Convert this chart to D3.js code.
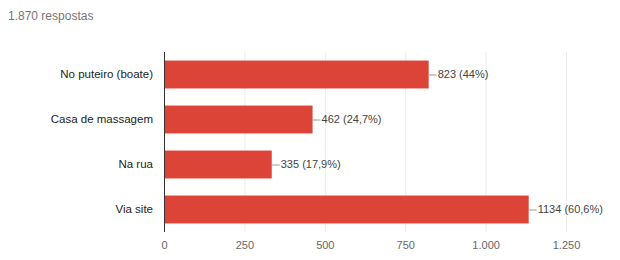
<!DOCTYPE html>
<html>
<head>
<meta charset="utf-8">
<script src="https://cdn.jsdelivr.net/npm/d3@7"></script>
<style>
  body { margin: 0; background: #fff; font-family: "Liberation Sans", Arial, sans-serif; }
  #chart { width: 620px; height: 260px; }
</style>
</head>
<body>
<div id="chart"></div>
<script>
//Datos
const categorias = ['No puteiro (boate)', 'Casa de massagem', 'Na rua', 'Via site'];
const valores = [823, 462, 335, 1134];
const etiquetas = ['823 (44%)', '462 (24,7%)', '335 (17,9%)', '1134 (60,6%)'];
const ticks = [0, 250, 500, 750, 1000, 1250];
const totalRespuestas = '1.870 respostas';

const COLOR_BAR = '#db4437';

let margin = {top: 52, right: 54, bottom: 28, left: 164},
    width = 620 - margin.left - margin.right,
    height = 260 - margin.top - margin.bottom;

let root = d3.select('#chart')
    .append('svg')
    .attr('width', 620)
    .attr('height', 260);

root.append('text')
    .attr('x', 8)
    .attr('y', 20)
    .attr('fill', '#757575')
    .style('font-size', '12px')
    .text(totalRespuestas);

let svg = root.append('g')
    .attr('transform', 'translate(' + margin.left + ',' + margin.top + ')');

let x = d3.scaleLinear()
    .domain([0, 1250])
    .range([0, width]);

let y = d3.scaleBand()
    .domain(categorias)
    .range([0, height])
    .paddingInner(0.38)
    .paddingOuter(0.19);

let fmt = d3.formatLocale({decimal: ',', thousands: '.', grouping: [3], currency: ['', '']}).format(',d');

//Rejilla
svg.append('g')
    .selectAll('line')
    .data(ticks)
    .enter()
    .append('line')
    .attr('x1', d => x(d) + 0.5)
    .attr('x2', d => x(d) + 0.5)
    .attr('y1', 0)
    .attr('y2', height)
    .attr('stroke', '#ebebeb');

//Eje X
let xAxis = d3.axisBottom(x).tickValues(ticks).tickSize(0).tickPadding(9).tickFormat(fmt);
svg.append('g')
    .attr('transform', 'translate(0,' + height + ')')
    .call(xAxis)
    .call(g => g.select('.domain').remove())
    .call(g => g.selectAll('text')
        .attr('fill', '#666')
        .style('font-size', '11px')
        .style('font-family', '"Liberation Sans", Arial, sans-serif'));

//Eje Y
let yAxis = d3.axisLeft(y).tickSize(0).tickPadding(11);
svg.append('g')
    .call(yAxis)
    .call(g => g.select('.domain').remove())
    .call(g => g.selectAll('text')
        .attr('fill', '#222')
        .style('font-size', '11.5px')
        .style('font-family', '"Liberation Sans", Arial, sans-serif'));

let datos = categorias.map((c, i) => ({cat: c, val: valores[i], lab: etiquetas[i]}));

//Barras
svg.append('g')
    .selectAll('rect')
    .data(datos)
    .enter()
    .append('rect')
    .attr('x', x(0))
    .attr('y', d => y(d.cat))
    .attr('width', d => x(d.val) - x(0))
    .attr('height', y.bandwidth())
    .attr('fill', COLOR_BAR);

//Etiquetas de valor
let lab = svg.append('g')
    .selectAll('g')
    .data(datos)
    .enter()
    .append('g');

lab.append('line')
    .attr('x1', d => x(d.val))
    .attr('x2', d => x(d.val) + 8)
    .attr('y1', d => y(d.cat) + y.bandwidth() / 2 + 0.5)
    .attr('y2', d => y(d.cat) + y.bandwidth() / 2 + 0.5)
    .attr('stroke', '#999');

lab.append('text')
    .attr('x', d => x(d.val) + 9)
    .attr('y', d => y(d.cat) + y.bandwidth() / 2)
    .attr('dy', '0.35em')
    .attr('fill', '#444')
    .style('font-size', '11px')
    .text(d => d.lab);

//Línea del eje
svg.append('line')
    .attr('x1', 0.5)
    .attr('x2', 0.5)
    .attr('y1', 0)
    .attr('y2', height)
    .attr('stroke', '#333');
</script>
</body>
</html>
